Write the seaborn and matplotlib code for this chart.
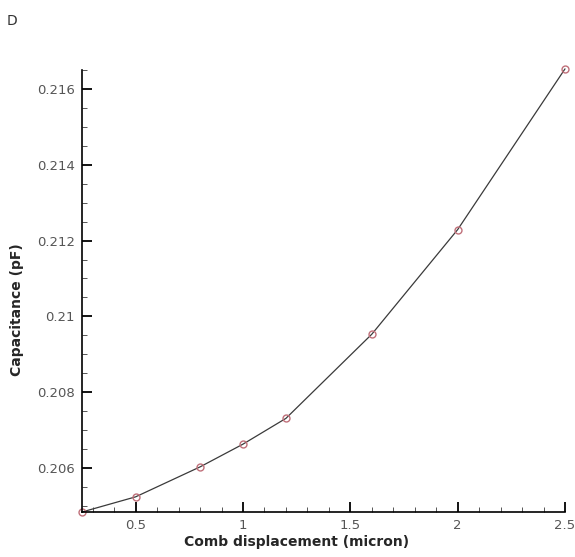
import matplotlib
matplotlib.use("Agg")
import matplotlib.pyplot as plt
from matplotlib.ticker import MultipleLocator
import seaborn as sns
import pandas as pd

displacement = [0.25, 0.5, 0.8, 1.0, 1.2, 1.6, 2.0, 2.5]
capacitance = [0.20484, 0.20524, 0.20603, 0.20663, 0.20731, 0.20953, 0.21229, 0.21653]
x_ticks = [0.5, 1, 1.5, 2, 2.5]
x_tick_labels = ["0.5", "1", "1.5", "2", "2.5"]
y_ticks = [0.206, 0.208, 0.21, 0.212, 0.214, 0.216]
y_tick_labels = ["0.206", "0.208", "0.21", "0.212", "0.214", "0.216"]

df = pd.DataFrame({"x": displacement, "y": capacitance})

sns.set_style("white")
plt.rcParams["font.family"] = ["DejaVu Sans"]
plt.rcParams["xtick.direction"] = "in"
plt.rcParams["ytick.direction"] = "in"

fig = plt.figure(figsize=(5.75, 5.57), dpi=100)
ax = fig.add_axes([0.1426, 0.0808, 0.84, 0.7935])

sns.lineplot(data=df, x="x", y="y", ax=ax, color="#3a3a3a", linewidth=0.9,
             marker="o", markersize=5, markerfacecolor="none",
             markeredgecolor="#c0707a", markeredgewidth=1.0, clip_on=False)

ax.set_xlim(0.25, 2.5)
ax.set_ylim(0.20484, 0.2165)
ax.set_xticks(x_ticks)
ax.set_xticklabels(x_tick_labels)
ax.set_yticks(y_ticks)
ax.set_yticklabels(y_tick_labels)
ax.xaxis.set_minor_locator(MultipleLocator(0.1))
ax.yaxis.set_minor_locator(MultipleLocator(0.0005))

for s in ["top", "right"]:
    ax.spines[s].set_visible(False)
for s in ["left", "bottom"]:
    ax.spines[s].set_color("black")
    ax.spines[s].set_linewidth(1.2)

ax.tick_params(which="major", direction="in", length=7, width=1.3, color="black",
               labelsize=9.5, labelcolor="#555555", left=True, bottom=True, pad=5)
ax.tick_params(which="minor", direction="in", length=3.5, width=0.7, color="#555555",
               left=True, bottom=True)

ax.set_xlabel("Comb displacement (micron)", fontsize=10, fontweight="bold")
ax.set_ylabel("Capacitance (pF)", fontsize=10, fontweight="bold")
ax.xaxis.set_label_coords(0.445, -0.052)
ax.yaxis.set_label_coords(-0.12, 0.457)

fig.text(0.012, 0.962, "D", fontsize=10, color="#333333", va="center", ha="left")

fig.savefig("out.png", dpi=100)
